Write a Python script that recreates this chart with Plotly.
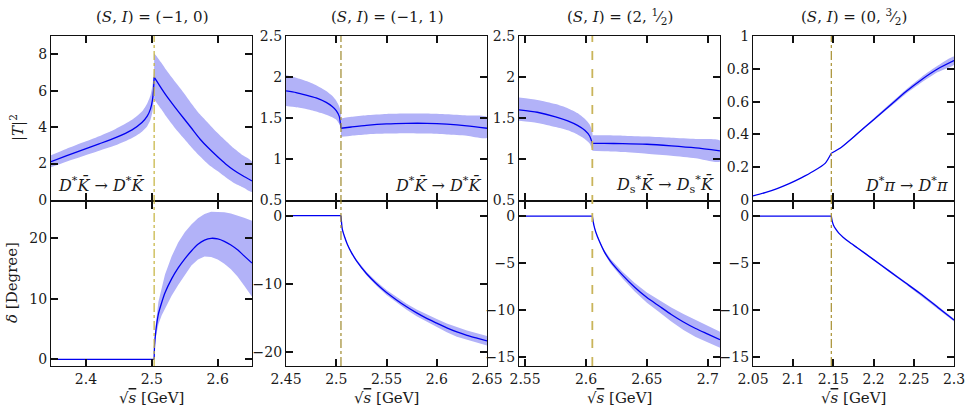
import plotly.graph_objects as go

# ---------------- data ----------------
titles = ["(<i>S</i>, <i>I</i>) = (−1, 0)", "(<i>S</i>, <i>I</i>) = (−1, 1)",
          "(<i>S</i>, <i>I</i>) = (2, <sup>1</sup>⁄<sub>2</sub>)", "(<i>S</i>, <i>I</i>) = (0, <sup>3</sup>⁄<sub>2</sub>)"]
channels = ["<i>D</i><sup>*</sup><i>K̄</i> → <i>D</i><sup>*</sup><i>K̄</i>",
            "<i>D</i><sup>*</sup><i>K̄</i> → <i>D</i><sup>*</sup><i>K̄</i>",
            "<i>D</i><sub>s</sub><sup>*</sup><i>K̄</i> → <i>D</i><sub>s</sub><sup>*</sup><i>K̄</i>",
            "<i>D</i><sup>*</sup><i>π</i> → <i>D</i><sup>*</sup><i>π</i>"]
thresholds = [2.5035, 2.5047, 2.6052, 2.1474]
x_ranges = [[2.347, 2.652], [2.45, 2.65], [2.545, 2.71], [2.05, 2.3]]
t_ranges = [[0, 9], [0.5, 2.5], [0.5, 2.5], [0, 1]]
d_ranges = [[-1.1, 26], [-22.1, 2], [-16, 1.5], [-16, 1.5]]
x_tick0 = [2.4, 2.45, 2.55, 2.05]
x_dtick = [0.1, 0.05, 0.05, 0.05]
t_tick0 = [0, 0.5, 0.5, 0]
t_dtick = [2, 0.5, 0.5, 0.2]
d_dtick = [10, 10, 5, 5]

# Panel 1 |T|^2
p1_tx = [2.347, 2.37, 2.395, 2.42, 2.445, 2.47, 2.485, 2.493, 2.498, 2.501, 2.5025, 2.5035,
         2.507, 2.515, 2.5225, 2.535, 2.548, 2.56, 2.573, 2.586, 2.599, 2.612, 2.624, 2.638, 2.652]
p1_t = [2.1, 2.42, 2.75, 3.08, 3.42, 3.85, 4.25, 4.6, 5.0, 5.5, 6.0, 6.74,
        6.55, 6.1, 5.7, 5.1, 4.5, 3.95, 3.35, 2.85, 2.4, 1.98, 1.65, 1.33, 1.05]
p1_bl_x = [2.347, 2.37, 2.395, 2.42, 2.445, 2.47, 2.485, 2.493, 2.498, 2.501, 2.5025, 2.5035]
p1_bl_up = [2.45, 2.8, 3.15, 3.5, 3.9, 4.4, 4.85, 5.3, 5.75, 6.3, 6.75, 7.2]
p1_bl_lo = [1.8, 2.1, 2.4, 2.7, 3.0, 3.4, 3.75, 4.05, 4.4, 4.85, 5.3, 6.0]
p1_br_x = [2.5035, 2.507, 2.515, 2.5225, 2.535, 2.548, 2.56, 2.573, 2.586, 2.599, 2.612, 2.624, 2.638, 2.652]
p1_br_up = [8.06, 7.9, 7.5, 7.1, 6.5, 5.9, 5.3, 4.7, 4.2, 3.7, 3.25, 2.85, 2.45, 2.1]
p1_br_lo = [5.5, 5.35, 4.95, 4.55, 3.95, 3.4, 2.9, 2.4, 1.95, 1.6, 1.25, 0.95, 0.7, 0.45]
# Panel 1 phase
p1_dx = [2.347, 2.5035, 2.504, 2.506, 2.51, 2.515, 2.52, 2.53, 2.54, 2.55, 2.56, 2.57, 2.58,
         2.59, 2.6, 2.61, 2.62, 2.63, 2.64, 2.652]
p1_d = [0, 0, 2.0, 4.6, 7.5, 9.4, 11.0, 13.3, 15.1, 16.6, 17.9, 19.0, 19.7, 20.0, 19.9, 19.5,
        18.9, 18.1, 17.1, 15.9]
p1_d_up = [0, 0, 2.5, 5.8, 9.5, 12.0, 14.0, 17.0, 19.3, 21.0, 22.3, 23.3, 24.0, 24.4, 24.4,
           24.3, 24.1, 23.8, 23.4, 22.9]
p1_d_lo = [0, 0, 1.6, 3.6, 5.8, 7.3, 8.5, 10.5, 12.3, 14.0, 15.5, 16.5, 17.0, 16.9, 16.5,
           15.8, 14.9, 13.7, 12.2, 10.35]

# Panel 2 |T|^2
p2_tx = [2.45, 2.46, 2.47, 2.48, 2.49, 2.496, 2.5, 2.503, 2.5047, 2.515, 2.53, 2.55, 2.57,
         2.59, 2.61, 2.63, 2.65]
p2_t = [1.83, 1.81, 1.78, 1.745, 1.69, 1.64, 1.59, 1.52, 1.375, 1.39, 1.41, 1.428, 1.435,
        1.435, 1.425, 1.405, 1.375]
p2_bl_x = [2.45, 2.46, 2.47, 2.48, 2.49, 2.496, 2.5, 2.503, 2.5047]
p2_bl_up = [2.02, 1.99, 1.95, 1.9, 1.83, 1.77, 1.71, 1.64, 1.56]
p2_bl_lo = [1.645, 1.63, 1.61, 1.58, 1.54, 1.51, 1.48, 1.43, 1.375]
p2_br_x = [2.5047, 2.515, 2.53, 2.55, 2.57, 2.59, 2.61, 2.63, 2.65]
p2_br_up = [1.495, 1.515, 1.535, 1.55, 1.555, 1.555, 1.545, 1.53, 1.51]
p2_br_lo = [1.27, 1.285, 1.3, 1.31, 1.315, 1.31, 1.3, 1.285, 1.26]
# Panel 2 phase
p2_dx = [2.45, 2.5047, 2.506, 2.508, 2.511, 2.515, 2.52, 2.53, 2.54, 2.55, 2.56, 2.57, 2.58,
         2.59, 2.6, 2.61, 2.62, 2.63, 2.64, 2.65]
p2_d = [0, 0, -2.0, -3.0, -4.2, -5.4, -6.6, -8.5, -10.0, -11.3, -12.4, -13.4, -14.3, -15.1,
        -15.8, -16.5, -17.1, -17.6, -18.0, -18.4]
p2_d_up = [0, 0, -1.95, -2.93, -4.1, -5.25, -6.42, -8.25, -9.7, -10.95, -12.0, -12.95, -13.8,
           -14.55, -15.2, -15.85, -16.4, -16.9, -17.3, -17.7]
p2_d_lo = [0, 0, -2.05, -3.07, -4.3, -5.55, -6.78, -8.75, -10.3, -11.65, -12.8, -13.85, -14.8,
           -15.65, -16.4, -17.15, -17.8, -18.3, -18.7, -19.1]

# Panel 3 |T|^2
p3_tx = [2.545, 2.56, 2.575, 2.585, 2.593, 2.599, 2.603, 2.6052, 2.615, 2.63, 2.65, 2.67, 2.69, 2.71]
p3_t = [1.6, 1.57, 1.515, 1.465, 1.41, 1.35, 1.28, 1.19, 1.19, 1.188, 1.18, 1.16, 1.135, 1.10]
p3_bl_x = [2.545, 2.56, 2.575, 2.585, 2.593, 2.599, 2.603, 2.6052]
p3_bl_up = [1.75, 1.72, 1.67, 1.62, 1.56, 1.49, 1.42, 1.33]
p3_bl_lo = [1.465, 1.44, 1.39, 1.35, 1.3, 1.245, 1.19, 1.12]
p3_br_x = [2.6052, 2.615, 2.63, 2.65, 2.67, 2.69, 2.71]
p3_br_up = [1.29, 1.29, 1.285, 1.275, 1.26, 1.245, 1.225]
p3_br_lo = [1.1, 1.095, 1.085, 1.065, 1.04, 1.01, 0.97]
# Panel 3 phase
p3_dx = [2.545, 2.6052, 2.6065, 2.608, 2.611, 2.615, 2.62, 2.63, 2.64, 2.65, 2.66, 2.67, 2.68,
         2.69, 2.7, 2.71]
p3_d = [0, 0, -1.0, -1.7, -2.7, -3.8, -4.8, -6.3, -7.6, -8.7, -9.6, -10.5, -11.3, -12.0, -12.6, -13.2]
p3_d_up = [0, 0, -0.95, -1.62, -2.58, -3.62, -4.55, -5.95, -7.15, -8.15, -8.95, -9.75, -10.45,
           -11.1, -11.75, -12.35]
p3_d_lo = [0, 0, -1.05, -1.78, -2.82, -3.98, -5.05, -6.65, -8.05, -9.25, -10.25, -11.25, -12.15,
           -12.9, -13.45, -14.05]

# Panel 4 |T|^2
p4_tx = [2.05, 2.065, 2.08, 2.095, 2.11, 2.125, 2.14, 2.1474, 2.16, 2.18, 2.2, 2.22, 2.24, 2.26, 2.28, 2.3]
p4_t = [0.025, 0.045, 0.07, 0.1, 0.135, 0.175, 0.225, 0.285, 0.322, 0.405, 0.49, 0.575, 0.66, 0.735, 0.8, 0.85]
p4_b_x = [2.1474, 2.16, 2.18, 2.2, 2.22, 2.24, 2.26, 2.28, 2.3]
p4_b_up = [0.285, 0.324, 0.41, 0.497, 0.585, 0.673, 0.752, 0.82, 0.875]
p4_b_lo = [0.285, 0.32, 0.4, 0.483, 0.565, 0.647, 0.718, 0.78, 0.825]
# Panel 4 phase
p4_dx = [2.05, 2.1474, 2.1485, 2.15, 2.153, 2.157, 2.162, 2.17, 2.18, 2.2, 2.22, 2.24, 2.26, 2.28, 2.3]
p4_d = [0, 0, -0.55, -0.95, -1.4, -1.85, -2.25, -2.8, -3.4, -4.65, -5.9, -7.15, -8.4, -9.75, -11.1]
p4_d_up = [0, 0, -0.54, -0.93, -1.37, -1.81, -2.2, -2.74, -3.33, -4.56, -5.79, -7.02, -8.26, -9.6, -10.95]
p4_d_lo = [0, 0, -0.56, -0.97, -1.43, -1.89, -2.3, -2.86, -3.47, -4.74, -6.01, -7.28, -8.54, -9.9, -11.25]

panels = [
    dict(tx=p1_tx, t=p1_t, tbands=[(p1_bl_x, p1_bl_up, p1_bl_lo), (p1_br_x, p1_br_up, p1_br_lo)],
         dx=p1_dx, d=p1_d, dup=p1_d_up, dlo=p1_d_lo),
    dict(tx=p2_tx, t=p2_t, tbands=[(p2_bl_x, p2_bl_up, p2_bl_lo), (p2_br_x, p2_br_up, p2_br_lo)],
         dx=p2_dx, d=p2_d, dup=p2_d_up, dlo=p2_d_lo),
    dict(tx=p3_tx, t=p3_t, tbands=[(p3_bl_x, p3_bl_up, p3_bl_lo), (p3_br_x, p3_br_up, p3_br_lo)],
         dx=p3_dx, d=p3_d, dup=p3_d_up, dlo=p3_d_lo),
    dict(tx=p4_tx, t=p4_t, tbands=[(p4_b_x, p4_b_up, p4_b_lo)],
         dx=p4_dx, d=p4_d, dup=p4_d_up, dlo=p4_d_lo),
]

# ---------------- styling / layout ----------------
W, H = 970, 412
FONT = "DejaVu Serif"
TXT = "#1a1a1a"
AX = "#111111"
LINE = "#0000f0"
BAND = "#b2b2f8"
thr_colors = ["#c4b23c", "#9e8a2c", "#c9b45a", "#a88f30"]
thr_dash = ["dashdot", "dashdot", "dash", "dashdot"]
panel_px = [(51, 252), (286, 487), (519, 720), (753, 954)]
top_py = (36, 200)
bot_py = (202, 366)


def xp(px):
    return px / W


def yp(py):
    return 1 - py / H


def split_at(xs, ys, thr):
    k = min(range(len(xs)), key=lambda j: abs(xs[j] - thr))
    return (xs[:k + 1], ys[:k + 1]), (xs[k:], ys[k:])


def axis(**kw):
    base = dict(showgrid=False, zeroline=False, showline=True, linecolor=AX, linewidth=1.3,
                mirror="ticks", ticks="inside", ticklen=7, tickwidth=1.5, tickcolor=AX,
                tickmode="linear", tickfont=dict(family=FONT, size=14, color=TXT))
    base.update(kw)
    return base


fig = go.Figure()
fig.update_layout(template="none", width=W, height=H, margin=dict(l=0, r=0, t=0, b=0),
                  autosize=False, plot_bgcolor="white", paper_bgcolor="white", showlegend=False,
                  font=dict(family=FONT, size=14, color=TXT))

for i, p in enumerate(panels):
    nt, nb = 2 * i + 1, 2 * i + 2
    xa_t, ya_t = f"x{nt}", f"y{nt}"
    xa_b, ya_b = f"x{nb}", f"y{nb}"
    dom_x = [xp(panel_px[i][0]), xp(panel_px[i][1])]
    dom_t = [yp(top_py[1]), yp(top_py[0])]
    dom_b = [yp(bot_py[1]), yp(bot_py[0])]
    fig.update_layout({
        f"xaxis{nt}": axis(domain=dom_x, anchor=ya_t, range=x_ranges[i],
                           tick0=x_tick0[i], dtick=x_dtick[i], showticklabels=False),
        f"yaxis{nt}": axis(domain=dom_t, anchor=xa_t, range=t_ranges[i],
                           tick0=t_tick0[i], dtick=t_dtick[i]),
        f"xaxis{nb}": axis(domain=dom_x, anchor=ya_b, range=x_ranges[i],
                           tick0=x_tick0[i], dtick=x_dtick[i]),
        f"yaxis{nb}": axis(domain=dom_b, anchor=xa_b, range=d_ranges[i],
                           tick0=0, dtick=d_dtick[i]),
    })

    for bx, bu, bl in p["tbands"]:
        fig.add_trace(go.Scatter(x=list(bx) + list(bx)[::-1], y=list(bu) + list(bl)[::-1],
                                 fill="toself", fillcolor=BAND, line=dict(width=0, shape="spline", smoothing=0.6),
                                 mode="lines", xaxis=xa_t, yaxis=ya_t, hoverinfo="skip"))
    for sx, sy in split_at(p["tx"], p["t"], thresholds[i]):
        fig.add_trace(go.Scatter(x=sx, y=sy, mode="lines",
                                 line=dict(color=LINE, width=1.3, shape="spline", smoothing=0.6),
                                 xaxis=xa_t, yaxis=ya_t))
    fig.add_trace(go.Scatter(x=list(p["dx"]) + list(p["dx"])[::-1],
                             y=list(p["dup"]) + list(p["dlo"])[::-1],
                             fill="toself", fillcolor=BAND, line=dict(width=0),
                             mode="lines", xaxis=xa_b, yaxis=ya_b, hoverinfo="skip"))
    (lx, ly), (rx, ry) = split_at(p["dx"], p["d"], thresholds[i])
    fig.add_trace(go.Scatter(x=lx, y=ly, mode="lines", line=dict(color=LINE, width=1.3),
                             xaxis=xa_b, yaxis=ya_b))
    fig.add_trace(go.Scatter(x=rx, y=ry, mode="lines",
                             line=dict(color=LINE, width=1.3, shape="spline", smoothing=0.6),
                             xaxis=xa_b, yaxis=ya_b))

    fig.add_shape(type="line", xref=xa_b, yref="paper", x0=thresholds[i], x1=thresholds[i],
                  y0=yp(bot_py[1]), y1=yp(top_py[0]), opacity=1,
                  line=dict(color=thr_colors[i], width=1.2 if i != 2 else 1.8, dash=thr_dash[i]),
                  layer="above")

    cx = (panel_px[i][0] + panel_px[i][1]) / 2
    fig.add_annotation(text=titles[i], x=xp(cx), y=yp(17), xref="paper", yref="paper",
                       showarrow=False, font=dict(family=FONT, size=15, color=TXT),
                       xanchor="center", yanchor="middle")
    fig.add_annotation(text="√<span style='text-decoration:overline'><i>s</i></span> [GeV]",
                       x=xp(cx), y=yp(398), xref="paper", yref="paper",
                       showarrow=False, font=dict(family=FONT, size=15, color=TXT),
                       xanchor="center", yanchor="middle")
    if i == 0:
        fig.add_annotation(text=channels[i], x=xp(56), y=yp(184), xref="paper", yref="paper",
                           showarrow=False, font=dict(family=FONT, size=16, color=TXT),
                           xanchor="left", yanchor="middle")
    else:
        fig.add_annotation(text=channels[i], x=xp(panel_px[i][1] - 4), y=yp(184),
                           xref="paper", yref="paper", showarrow=False,
                           font=dict(family=FONT, size=16, color=TXT),
                           xanchor="right", yanchor="middle")

fig.add_annotation(text="|<i>T</i>|<sup>2</sup>", x=xp(17), y=yp(128), xref="paper", yref="paper",
                   showarrow=False, textangle=-90, font=dict(family=FONT, size=15, color=TXT),
                   xanchor="center", yanchor="middle")
fig.add_annotation(text="<i>δ</i> [Degree]", x=xp(12), y=yp(283), xref="paper", yref="paper",
                   showarrow=False, textangle=-90, font=dict(family=FONT, size=15, color=TXT),
                   xanchor="center", yanchor="middle")

fig.write_html("out.html")
